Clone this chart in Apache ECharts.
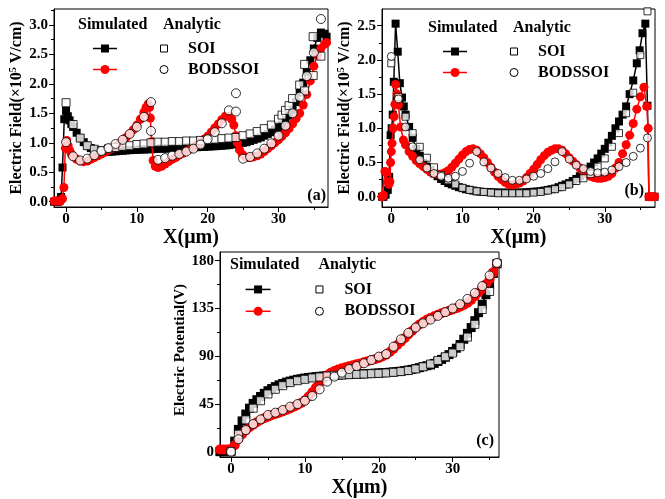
<!DOCTYPE html>
<html><head><meta charset="utf-8">
<script src="https://cdn.jsdelivr.net/npm/echarts@6/dist/echarts.min.js"></script>
<style>html,body{margin:0;padding:0;background:#fff}#c{width:665px;height:499px}</style>
</head><body><div id="c"></div>
<script>
// ---------- Panel (a): Electric field (x10^5 V/cm) ----------
const aSoiSim = [[-1.7,0],[-1.4,0],[-1.1,0],[-0.9,0.02],[-0.7,0.08],[-0.5,0.58],[-0.25,1.4],[0,1.54],[0.25,1.45],[0.5,1.38],[0.75,1.32],[1,1.27],[1.5,1.17],[2,1.08],[2.5,1.01],[3,0.95],[3.5,0.91],[4,0.88],[4.5,0.86],[5,0.85],[5.5,0.845],[6,0.845],[6.5,0.85],[7,0.855],[7.5,0.86],[8,0.865],[8.5,0.87],[9,0.875],[9.5,0.88],[10,0.88],[10.5,0.885],[11,0.885],[11.5,0.89],[12,0.89],[12.5,0.895],[13,0.9],[13.5,0.9],[14,0.9],[14.5,0.905],[15,0.91],[15.5,0.91],[16,0.91],[16.5,0.915],[17,0.92],[17.5,0.92],[18,0.92],[18.5,0.925],[19,0.93],[19.5,0.93],[20,0.935],[20.5,0.94],[21,0.94],[21.5,0.945],[22,0.95],[22.5,0.955],[23,0.96],[23.5,0.97],[24,0.98],[24.5,0.99],[25,1.0],[25.5,1.01],[26,1.03],[26.5,1.05],[27,1.07],[27.5,1.09],[28,1.12],[28.5,1.15],[29,1.18],[29.5,1.22],[30,1.26],[30.5,1.31],[31,1.38],[31.5,1.46],[32,1.56],[32.5,1.69],[33,1.85],[33.5,2.02],[34,2.2],[34.5,2.4],[35,2.6],[35.5,2.78],[36,2.87],[36.5,2.85],[36.8,2.8]];
const aBodSim = [[-1.7,0.01],[-1.4,0.01],[-1.1,0.01],[-0.8,0.01],[-0.5,0.05],[-0.3,0.24],[-0.1,0.91],[0.1,1.04],[0.3,0.95],[0.5,0.87],[0.75,0.81],[1,0.77],[1.5,0.72],[2,0.69],[2.5,0.68],[3,0.69],[3.5,0.72],[4,0.75],[4.5,0.78],[5,0.81],[5.5,0.84],[6,0.87],[6.5,0.9],[7,0.94],[7.5,0.98],[8,1.03],[8.5,1.09],[9,1.15],[9.5,1.22],[10,1.3],[10.5,1.4],[11,1.52],[11.3,1.6],[11.6,1.66],[11.8,1.6],[11.9,1.42],[12.1,1.02],[12.3,0.7],[12.6,0.6],[13,0.58],[13.5,0.6],[14,0.64],[14.5,0.68],[15,0.72],[15.5,0.75],[16,0.79],[16.5,0.82],[17,0.86],[17.5,0.89],[18,0.93],[18.5,0.97],[19,1.01],[19.5,1.06],[20,1.11],[20.5,1.18],[21,1.25],[21.5,1.32],[22,1.39],[22.5,1.45],[23,1.45],[23.4,1.4],[23.7,1.3],[24,1.12],[24.2,1.0],[24.5,0.88],[24.9,0.8],[25.3,0.76],[25.7,0.75],[26,0.75],[26.5,0.76],[27,0.78],[27.5,0.81],[28,0.85],[28.5,0.9],[29,0.95],[29.5,1.0],[30,1.05],[30.5,1.11],[31,1.17],[31.5,1.24],[32,1.32],[32.5,1.41],[33,1.5],[33.5,1.64],[34,1.82],[34.5,2.05],[35,2.3],[35.5,2.48],[36,2.6],[36.5,2.67],[36.8,2.7]];
const aSoiAna = [[0,1.68],[1,1.31],[2,1.08],[3,0.95],[4,0.89],[5,0.87],[6,0.9],[7,0.92],[8,0.94],[9,0.95],[10,0.97],[11,0.98],[12,1.0],[13,1.01],[14,1.01],[15,1.02],[16,1.02],[17,1.03],[18,1.03],[19,1.04],[20,1.05],[21,1.06],[22,1.07],[23,1.08],[24,1.09],[25,1.12],[26,1.15],[27,1.19],[28,1.24],[29,1.3],[30,1.4],[30.5,1.47],[31,1.55],[31.5,1.63],[32,1.75],[33,1.98],[33.7,1.88],[33.7,2.33],[34.9,2.14],[34.9,2.8],[36,2.47]];
const aBodAna = [[0,1.01],[1,0.77],[2,0.7],[3,0.73],[4,0.79],[5,0.86],[6,0.91],[7,0.98],[8,1.05],[9,1.15],[10,1.27],[11,1.44],[12,1.69],[12,1.2],[13,0.71],[14,0.74],[15,0.78],[16,0.81],[17,0.85],[18,0.9],[19,0.97],[20,1.06],[21,1.18],[22,1.33],[23,1.55],[24,1.84],[24,1.53],[25,0.73],[26,0.76],[27,0.82],[28,0.9],[29,0.99],[30,1.12],[31,1.29],[32,1.5],[33,1.78],[34,2.13],[35,2.53],[36,3.1]];

// ---------- Panel (b): Electric field (x10^5 V/cm) ----------
const bSoiSim = [[-1.3,0],[-1.1,0],[-0.8,0.03],[-0.5,0.1],[-0.3,0.29],[-0.1,0.9],[0.05,1.0],[0.2,1.2],[0.35,1.68],[0.6,2.53],[0.9,2.12],[1.2,1.66],[1.5,1.45],[1.75,1.32],[2,1.2],[2.5,1.02],[3,0.86],[3.5,0.7],[4,0.6],[4.5,0.5],[5,0.44],[5.5,0.39],[6,0.34],[6.5,0.3],[7,0.26],[7.5,0.23],[8,0.2],[8.5,0.18],[9,0.16],[9.5,0.14],[10,0.125],[10.5,0.11],[11,0.1],[11.5,0.09],[12,0.08],[12.5,0.075],[13,0.07],[13.5,0.068],[14,0.065],[14.5,0.062],[15,0.06],[15.5,0.06],[16,0.06],[16.5,0.06],[17,0.06],[17.5,0.06],[18,0.06],[18.5,0.062],[19,0.065],[19.5,0.07],[20,0.072],[20.5,0.076],[21,0.08],[21.5,0.09],[22,0.1],[22.5,0.11],[23,0.12],[23.5,0.14],[24,0.16],[24.5,0.18],[25,0.2],[25.5,0.23],[26,0.26],[26.5,0.3],[27,0.34],[27.5,0.39],[28,0.44],[28.5,0.5],[29,0.56],[29.5,0.63],[30,0.7],[30.5,0.79],[31,0.89],[31.5,1.0],[32,1.1],[32.5,1.2],[33,1.32],[33.5,1.5],[34,1.7],[34.5,1.95],[34.9,2.14],[35.3,2.39],[35.7,2.53],[36,1.33],[36.2,0],[36.6,0],[37,0]];
const bBodSim = [[-1.3,0],[-1.1,0.02],[-0.9,0.37],[-0.7,0.36],[-0.5,0.22],[-0.35,0.18],[-0.2,0.22],[-0.1,0.5],[0,0.66],[0.1,0.78],[0.25,1.0],[0.4,1.17],[0.5,1.35],[0.6,1.64],[0.8,1.5],[1.0,1.34],[1.3,1.02],[1.7,0.83],[2,0.76],[2.5,0.66],[3,0.59],[3.5,0.53],[4,0.48],[4.5,0.44],[5,0.4],[5.5,0.36],[6,0.34],[6.5,0.33],[7,0.33],[7.5,0.35],[8,0.38],[8.5,0.43],[9,0.49],[9.5,0.55],[10,0.61],[10.5,0.66],[11,0.69],[11.5,0.7],[12,0.68],[12.5,0.63],[13,0.57],[13.5,0.5],[14,0.43],[14.5,0.36],[15,0.3],[15.5,0.25],[16,0.21],[16.5,0.18],[17,0.17],[17.5,0.18],[18,0.2],[18.5,0.23],[19,0.28],[19.5,0.34],[20,0.4],[20.5,0.47],[21,0.54],[21.5,0.6],[22,0.65],[22.5,0.68],[23,0.7],[23.5,0.7],[24,0.68],[24.5,0.63],[25,0.57],[25.5,0.52],[26,0.47],[26.5,0.42],[27,0.37],[27.5,0.33],[28,0.3],[28.5,0.28],[29,0.27],[29.5,0.27],[30,0.28],[30.5,0.3],[31,0.34],[31.5,0.42],[32,0.5],[32.5,0.63],[33,0.76],[33.5,0.9],[34,1.07],[34.5,1.28],[35,1.46],[35.5,1.6],[35.9,1.32],[36.1,1.0],[36.2,0],[36.6,0],[37,0]];
const bSoiAna = [[0,1.95],[1,1.46],[2,1.17],[3,0.93],[4,0.73],[5,0.57],[6,0.43],[7,0.32],[8,0.24],[9,0.18],[10,0.13],[11,0.1],[12,0.08],[13,0.07],[14,0.06],[15,0.05],[16,0.05],[17,0.05],[18,0.05],[19,0.05],[20,0.06],[21,0.07],[22,0.09],[23,0.11],[24,0.14],[25,0.18],[26,0.23],[27,0.27],[28,0.33],[29,0.44],[30,0.56],[31,0.73],[32,0.93],[33,1.22],[34,1.52],[35,2.07],[36,2.71]];
const bBodAna = [[0,2.05],[1,1.43],[2,1.02],[3,0.73],[4,0.54],[5,0.42],[6,0.34],[7,0.3],[8,0.27],[9,0.3],[10,0.37],[11,0.49],[12,0.66],[13,0.51],[14,0.42],[15,0.34],[16,0.28],[17,0.24],[18,0.24],[19,0.26],[20,0.3],[21,0.34],[22,0.41],[23,0.51],[24,0.66],[25,0.55],[26,0.46],[27,0.41],[28,0.37],[29,0.35],[30,0.36],[31,0.39],[32,0.44],[33,0.5],[34,0.59],[35,0.71],[36,0.86]];

// ---------- Panel (c): Electric potential (V) ----------
const cSoiSim = [[-1.5,0],[-1,0],[-0.5,0],[0,0.5],[0.5,10],[1,21],[1.5,29],[2,35.5],[2.5,41],[3,45.5],[3.5,49],[4,52],[4.5,55],[5,57.5],[5.5,59.5],[6,61.3],[6.5,63],[7,64.3],[7.5,65.5],[8,66.5],[8.5,67.4],[9,68.2],[9.5,68.8],[10,69.4],[10.5,69.9],[11,70.3],[11.5,70.7],[12,71],[12.5,71.3],[13,71.6],[13.5,71.9],[14,72.1],[14.5,72.3],[15,72.5],[15.5,72.7],[16,72.9],[16.5,73],[17,73.2],[17.5,73.3],[18,73.5],[18.5,73.6],[19,73.8],[19.5,74],[20,74.2],[20.5,74.4],[21,74.6],[21.5,74.9],[22,75.2],[22.5,75.5],[23,75.9],[23.5,76.4],[24,77],[24.5,77.6],[25,78.3],[25.5,79.2],[26,80.2],[26.5,81],[27,81.8],[27.5,83.2],[28,85],[28.5,87],[29,89],[29.5,91.5],[30,94.5],[30.5,97.5],[31,101],[31.5,106],[32,111.5],[32.5,117],[33,123.5],[33.5,131],[34,139],[34.5,148],[35,158],[35.5,168],[36,177]];
const cBodSim = [[-1.5,2],[-1,2],[-0.5,2],[0,2.5],[0.5,6],[1,12],[1.5,16.5],[2,20],[2.5,23],[3,25.5],[3.5,27.8],[4,29.8],[4.5,31.5],[5,33],[5.5,34.3],[6,35.6],[6.5,36.8],[7,38],[7.5,39.4],[8,40.8],[8.5,42.3],[9,44],[9.5,46],[10,48.5],[10.5,52],[11,56],[11.5,60.5],[12,65],[12.5,69],[13,72],[13.5,74.3],[14,76],[14.5,77.4],[15,78.6],[15.5,79.6],[16,80.5],[16.5,81.4],[17,82.3],[17.5,83.2],[18,84.2],[18.5,85.2],[19,86.3],[19.5,87.2],[20,88.3],[20.5,89.8],[21,91.5],[21.5,94],[22,97],[22.5,100.5],[23,103.6],[23.5,107],[24,110.4],[24.5,113.8],[25,117],[25.5,119.8],[26,122.2],[26.5,124.3],[27,126.1],[27.5,127.7],[28,129.1],[28.5,130.4],[29,131.6],[29.5,132.8],[30,134],[30.5,135.3],[31,136.7],[31.5,138.3],[32,140.2],[32.5,143],[33,146.5],[33.5,150],[34,153.5],[34.5,157.8],[35,162.5],[35.5,169],[36,177]];
const cSoiAna = [[0,0],[1,16.5],[2,30],[3,41],[4,48],[5,54.4],[6,58.8],[7,62.2],[8,65.1],[9,66.9],[10,68.2],[11,69.5],[12,70.4],[13,71.3],[14,72],[15,72.3],[16,72.6],[17,72.9],[18,73.2],[19,73.5],[20,73.8],[21,74.2],[22,74.8],[23,75.5],[24,76.5],[25,78],[26,80],[27,82.6],[28,86],[29,89.5],[30,93],[31,99],[32,108],[33,120],[34,134],[35,151],[36,177.5]];
const cBodAna = [[0,0],[1,11.7],[2,20.4],[3,26.1],[4,30.5],[5,34.6],[6,36.8],[7,39.3],[8,42.4],[9,44.9],[10,48],[11,52.5],[12,58.8],[13,66],[14,70.7],[15,74.5],[16,77.9],[17,80.7],[18,83.3],[19,86.4],[20,89.6],[21,92],[22,99],[23,106],[24,112],[25,117],[26,121],[27,124.5],[28,128],[29,131.5],[30,135],[31,139],[32,144],[33,149.5],[34,156],[35,166],[36,178]];

// ---------- Tick labels ----------
const xMajor = [0, 10, 20, 30];
const xMinor = [5, 15, 25, 35];
const aYMajor = [0, 0.5, 1, 1.5, 2, 2.5, 3];
const aYMinor = [0.25, 0.75, 1.25, 1.75, 2.25, 2.75, 3.25];
const bYMajor = [0, 0.5, 1, 1.5, 2, 2.5];
const bYMinor = [0.25, 0.75, 1.25, 1.75, 2.25];
const cYMajor = [0, 45, 90, 135, 180];
const cYMinor = [22.5, 67.5, 112.5, 157.5];

const FONT = '"Liberation Serif","Times New Roman",serif';
const RED = '#ff0000';

const panels = [
  {grid:{left:54, top:9, width:274, height:198}, xr:[-1.7,37.0], yr:[-0.09,3.27], yMaj:aYMajor, yMin:aYMinor, fmt:v=>v.toFixed(1),
   yName:'Electric Field(×10{s|5} V/cm)', yFs:16, yGap:27, yPad:[0,0,0,0], data:[aSoiSim,aBodSim,aSoiAna,aBodAna], tag:'(a)', tagPos:[326,196],
   leg:{x0:78, y0:25, s:1}, sz:[8,9,8,9]},
  {grid:{left:382, top:9, width:273, height:198}, xr:[-1.31,37.06], yr:[-0.15,2.744], yMaj:bYMajor, yMin:bYMinor, fmt:v=>v.toFixed(1),
   yName:'Electric Field(×10{s|5} V/cm)', yFs:16, yGap:27, yPad:[0,0,0,0], data:[bSoiSim,bBodSim,bSoiAna,bBodAna], tag:'(b)', tagPos:[644,191],
   leg:{x0:428, y0:28, s:1}, sz:[8,9,7,8]},
  {grid:{left:220, top:252, width:279, height:205}, xr:[-1.49,36.27], yr:[-5,188.2], yMaj:cYMajor, yMin:cYMinor, fmt:v=>String(v),
   yName:'Electric Potential(V)', yFs:15, yGap:30, yPad:[0,0,0,9], data:[cSoiSim,cBodSim,cSoiAna,cBodAna], tag:'(c)', tagPos:[494,441],
   leg:{x0:230, y0:265, s:1.04}, sz:[9,10,8,9]}
];

const grids = [], xAxes = [], yAxes = [], xMinorAxes = [], yMinorAxes = [], series = [], graphic = [];
const lbl = {fontFamily:FONT, fontWeight:'bold', fontSize:15, color:'#000'};

panels.forEach((p, i) => {
  grids.push(Object.assign({show:true, borderColor:'#000', borderWidth:1, containLabel:false}, p.grid));
  xAxes.push({type:'value', gridIndex:i, min:p.xr[0], max:p.xr[1], position:'bottom',
    axisLine:{show:true, onZero:false, lineStyle:{color:'#000', width:1}},
    axisTick:{show:true, inside:false, length:5, customValues:xMajor, lineStyle:{color:'#000'}},
    axisLabel:Object.assign({customValues:xMajor, margin:5, formatter:v=>String(v)}, lbl),
    splitLine:{show:false},
    name:'X(μm)', nameLocation:'middle', nameGap:13,
    nameTextStyle:{fontFamily:FONT, fontWeight:'bold', fontSize:20, color:'#000'}});
  xMinorAxes.push({type:'value', gridIndex:i, min:p.xr[0], max:p.xr[1], position:'bottom',
    axisLine:{show:false, onZero:false}, axisLabel:{show:false, customValues:xMinor},
    axisTick:{show:true, inside:false, length:3, customValues:xMinor, lineStyle:{color:'#000'}}, splitLine:{show:false}});
  yAxes.push({type:'value', gridIndex:i, min:p.yr[0], max:p.yr[1], position:'left',
    axisLine:{show:true, onZero:false, lineStyle:{color:'#000', width:1}},
    axisTick:{show:true, inside:false, length:5, customValues:p.yMaj, lineStyle:{color:'#000'}},
    axisLabel:Object.assign({customValues:p.yMaj, margin:6, formatter:p.fmt}, lbl),
    splitLine:{show:false},
    name:p.yName, nameLocation:'middle', nameGap:p.yGap, nameRotate:90,
    nameTextStyle:{fontFamily:FONT, fontWeight:'bold', fontSize:p.yFs, color:'#000', padding:p.yPad,
      rich:{s:{fontFamily:FONT, fontWeight:'bold', fontSize:10, color:'#000', padding:[0,0,8,0]}}}});
  yMinorAxes.push({type:'value', gridIndex:i, min:p.yr[0], max:p.yr[1], position:'left',
    axisLine:{show:false, onZero:false}, axisLabel:{show:false, customValues:p.yMin},
    axisTick:{show:true, inside:false, length:3, customValues:p.yMin, lineStyle:{color:'#000'}}, splitLine:{show:false}});

  const [soiSim, bodSim, soiAna, bodAna] = p.data;
  series.push({type:'line', xAxisIndex:i, yAxisIndex:i, data:soiSim, symbol:'rect', symbolSize:p.sz[0], showAllSymbol:true,
    itemStyle:{color:'#000'}, lineStyle:{color:'#000', width:1.5}, animation:false, z:2});
  series.push({type:'line', xAxisIndex:i, yAxisIndex:i, data:bodSim, symbol:'circle', symbolSize:p.sz[1], showAllSymbol:true,
    itemStyle:{color:RED}, lineStyle:{color:RED, width:1.5}, animation:false, z:3});
  series.push({type:'scatter', xAxisIndex:i, yAxisIndex:i, data:soiAna, symbol:'rect', symbolSize:p.sz[2],
    itemStyle:{color:'#fff', borderColor:'#000', borderWidth:1}, animation:false, z:4});
  series.push({type:'scatter', xAxisIndex:i, yAxisIndex:i, data:bodAna, symbol:'circle', symbolSize:p.sz[3],
    itemStyle:{color:'#fff', borderColor:'#000', borderWidth:1}, animation:false, z:5});

  // legend
  const L = p.leg, s = L.s;
  const f16 = 'bold 16px ' + FONT;
  const X = d => L.x0 + d * s, Y = d => L.y0 + d * s;
  graphic.push({type:'text', x:X(0), y:Y(0), style:{text:'Simulated', font:f16, fill:'#000', align:'left', verticalAlign:'middle'}});
  graphic.push({type:'text', x:X(85), y:Y(0), style:{text:'Analytic', font:f16, fill:'#000', align:'left', verticalAlign:'middle'}});
  const r1 = Y(23.5), r2 = Y(44.5), mx = X(27);
  graphic.push({type:'line', shape:{x1:X(15), y1:r1, x2:X(39), y2:r1}, style:{stroke:'#000', lineWidth:1.5}});
  graphic.push({type:'rect', shape:{x:mx-4, y:r1-4, width:8, height:8}, style:{fill:'#000'}});
  graphic.push({type:'line', shape:{x1:X(15), y1:r2, x2:X(39), y2:r2}, style:{stroke:RED, lineWidth:1.5}});
  graphic.push({type:'circle', shape:{cx:mx, cy:r2, r:4.5}, style:{fill:RED}});
  graphic.push({type:'rect', shape:{x:X(86)-3.5, y:r1-3.5, width:7, height:7}, style:{fill:'#fff', stroke:'#000', lineWidth:1}});
  graphic.push({type:'circle', shape:{cx:X(86), cy:r2, r:4}, style:{fill:'#fff', stroke:'#000', lineWidth:1}});
  graphic.push({type:'text', x:X(110), y:r1, style:{text:'SOI', font:f16, fill:'#000', align:'left', verticalAlign:'middle'}});
  graphic.push({type:'text', x:X(110), y:r2, style:{text:'BODSSOI', font:f16, fill:'#000', align:'left', verticalAlign:'middle'}});
  graphic.push({type:'text', x:p.tagPos[0], y:p.tagPos[1], style:{text:p.tag, font:f16, fill:'#000', align:'right', verticalAlign:'middle'}});
});

const chart = echarts.init(document.getElementById('c'), null, {renderer:'canvas'});
chart.setOption({
  animation:false,
  backgroundColor:'#fff',
  grid:grids,
  xAxis:xAxes.concat(xMinorAxes),
  yAxis:yAxes.concat(yMinorAxes),
  series:series,
  graphic:graphic
});
</script>
</body></html>
